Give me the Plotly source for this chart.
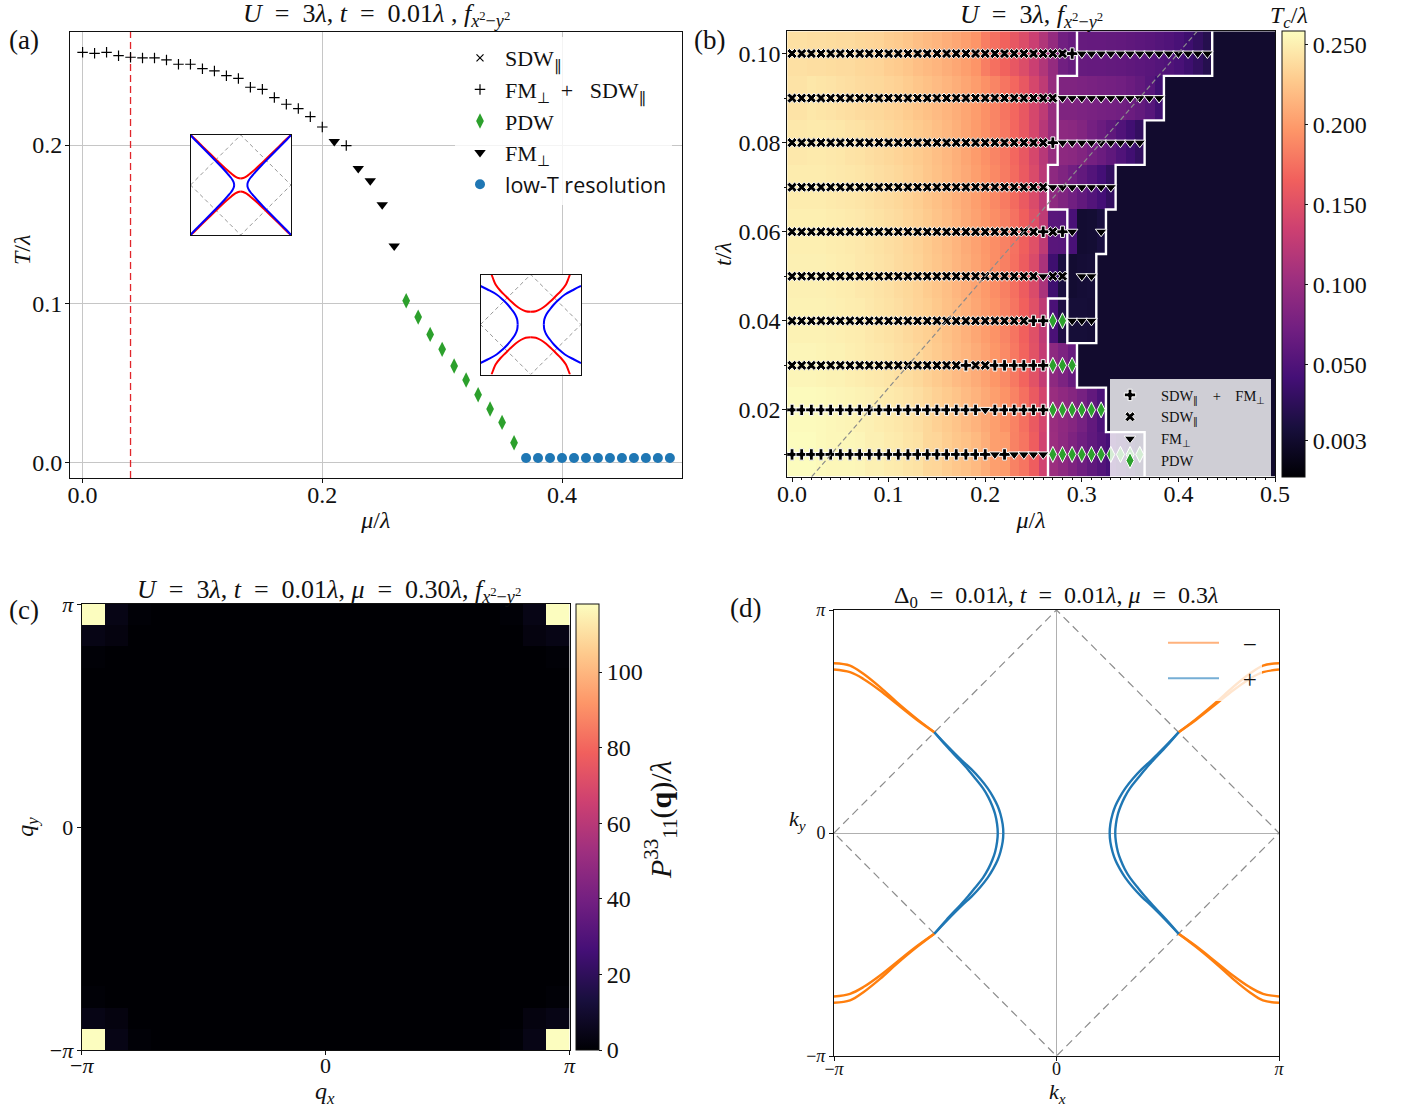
import plotly.graph_objects as go

# ---------- panel (a) data ----------
MU_PLUS = [0.00,0.01,0.02,0.03,0.04,0.05,0.06,0.07,0.08,0.09,0.10,0.11,0.12,0.13,0.14,0.15,0.16,0.17,0.18,0.19,0.20,0.22]
T_PLUS = [.2584,.2578,.2584,.2563,.2553,.2549,.2549,.2536,.2509,.2509,.2481,.2467,.2437,.2420,.2364,.2351,.2299,.2257,.2230,.2179,.2114,.1997]
MU_FM = [0.21,0.23,0.24,0.25,0.26]
T_FM = [.2022,.1852,.1776,.1625,.1365]
MU_PDW = [0.27,0.28,0.29,0.30,0.31,0.32,0.33,0.34,0.35,0.36]
T_PDW = [.1020,.0917,.0808,.0714,.0609,.0521,.0428,.0338,.0254,.0126]
MU_LOW = [0.37,0.38,0.39,0.40,0.41,0.42,0.43,0.44,0.45,0.46,0.47,0.48,0.49]
T_LOW = [.003]*13
MU_CUT = 0.04

# inset Fermi-surface branches (unit box)
INS1_A = [0,.05,.1,.15,.2,.3,.4,.5,.6,.7,.8,.9,1]
INS1_B = [.13,.14,.164,.198,.24,.327,.42,.517,.614,.712,.81,.91,1]
INS2_RX = [0,.1,.2,.3,.4,.5,.6,.7,.75,.78]
INS2_RY = [.253,.265,.31,.38,.47,.57,.67,.80,.92,1]
INS2_BY = [0,.1,.2,.3,.4,.5,.6,.7,.77]
INS2_BX = [.26,.27,.31,.38,.46,.56,.68,.86,1]
DIAMOND_X = [-1,0,1,0,-1]
DIAMOND_Y = [0,1,0,-1,0]

# ---------- panel (b) data ----------
GRID_MU = [i/100 for i in range(51)]
GRID_T = [0.01,0.02,0.03,0.04,0.05,0.06,0.07,0.08,0.09,0.10]
NAVY = 0.003
TC_01 = [.258,.258,.258,.256,.255,.255,.255,.254,.251,.251,.248,.247,.244,.242,.236,.235,.230,.226,.223,.218,.211,.202,.200,.185,.178,.163,.137,.102,.092,.081,.071,.061,.052,.043,.034,.025,.013]
TC_02 = [.257,.257,.257,.256,.255,.254,.253,.252,.251,.249,.247,.245,.243,.240,.236,.232,.228,.224,.219,.214,.208,.202,.195,.186,.175,.160,.140,.100,.093,.086,.076,.062,.047]
TC_03 = [.254,.254,.254,.253,.252,.252,.250,.249,.247,.246,.244,.241,.239,.236,.232,.228,.224,.219,.215,.210,.204,.197,.190,.180,.168,.152,.128,.092,.080,.066]
TC_04 = [.252,.252,.252,.252,.251,.250,.249,.248,.246,.244,.242,.240,.237,.234,.231,.227,.222,.218,.213,.207,.201,.195,.187,.178,.166,.150,.125,.046,.015,.008,.008,.007]
TC_05 = [.251,.251,.251,.251,.250,.249,.248,.246,.245,.243,.241,.238,.236,.233,.229,.225,.221,.216,.211,.205,.199,.192,.184,.175,.162,.145,.112,.038,.012,.005,.007,.008]
TC_06 = [.250,.250,.250,.250,.249,.248,.247,.246,.244,.242,.240,.238,.235,.232,.228,.224,.220,.215,.209,.204,.198,.192,.185,.176,.165,.150,.125,.056,.055,.045,.005,.006,.012]
TC_07 = [.248,.248,.248,.248,.247,.246,.245,.244,.242,.240,.238,.236,.233,.230,.226,.222,.218,.213,.208,.202,.196,.189,.181,.172,.160,.145,.122,.092,.082,.072,.062,.052,.042,.030]
TC_08 = [.246,.246,.247,.247,.246,.245,.243,.242,.240,.238,.236,.234,.231,.228,.225,.221,.217,.212,.206,.200,.194,.187,.180,.170,.158,.142,.120,.098,.092,.090,.084,.075,.068,.060,.050,.040,.030]
TC_09 = [.243,.243,.245,.244,.243,.241,.240,.238,.237,.236,.234,.232,.229,.225,.222,.219,.215,.211,.206,.201,.194,.187,.178,.170,.158,.142,.125,.098,.082,.082,.080,.078,.076,.074,.072,.068,.063,.055,.040]
TC_10 = [.241,.241,.240,.240,.239,.238,.238,.236,.235,.234,.230,.228,.225,.221,.218,.215,.211,.207,.202,.196,.183,.175,.167,.157,.147,.133,.116,.097,.072,.066,.065,.064,.064,.063,.062,.060,.058,.056,.053,.050,.045,.038,.030,.020]
TC_ROWS = [TC_01,TC_02,TC_03,TC_04,TC_05,TC_06,TC_07,TC_08,TC_09,TC_10]

# ordering along mu for every t: (phase, count)
PH_01 = [("p",21),("v",1),("p",1),("v",4),("d",10)]
PH_02 = [("p",20),("v",1),("p",6),("d",6)]
PH_03 = [("x",18),("p",1),("x",2),("p",6),("d",3)]
PH_04 = [("x",25),("p",2),("d",2),("v",3)]
PH_05 = [("x",26),("v",1),("x",2),("_",1),("v",2)]
PH_06 = [("x",26),("p",1),("x",1),("p",1),("v",1),("_",2),("v",1)]
PH_07 = [("x",27),("v",7)]
PH_08 = [("x",27),("p",1),("v",9)]
PH_09 = [("x",28),("v",11)]
PH_10 = [("x",29),("p",1),("v",14)]
PHASE_ROWS = [PH_01,PH_02,PH_03,PH_04,PH_05,PH_06,PH_07,PH_08,PH_09,PH_10]

WALL_1_MU = [.265,.265,.285,.285,.265,.265,.275,.275,.295,.295]
WALL_1_T = [.005,.045,.045,.065,.065,.075,.075,.095,.095,.105]
WALL_2_MU = [.285,.285,.315,.315,.325,.325,.335,.335,.365,.365,.385,.385,.435,.435]
WALL_2_T = [.045,.035,.035,.055,.055,.065,.065,.075,.075,.085,.085,.095,.095,.105]
WALL_3_MU = [.295,.295,.325,.325,.365,.365]
WALL_3_T = [.035,.025,.025,.015,.015,.005]
DIAG_MU = [.0204,.4194]
DIAG_T = [.005,.105]
TC_TICKS = [.003,.05,.10,.15,.20,.25]
TC_LABELS = ["0.003","0.050","0.100","0.150","0.200","0.250"]

# ---------- panel (c) data ----------
CORNER_PEAK = 118
CORNER_NEAR = 4
CORNER_DIAG = 2.5
CORNER_FAR = 0.6
N_Q = 21
Q_TICKS = [-1,0,1]
PI_LABELS = ["−<i>π</i>","0","<i>π</i>"]

# ---------- panel (d) data (unit box; mirrored into the four quadrants) ----------
BLUE_OUT_X = [.239,.242,.252,.264,.284,.309,.342,.382,.425,.49,.549]
BLUE_IN_X = [.264,.267,.276,.288,.306,.33,.363,.398,.434,.495,.549]
BLUE_Y = [0,.04,.085,.12,.16,.2,.242,.285,.325,.39,.452]
OR_X = [.549,.628,.718,.793,.868,.928,1]
OR_UP_Y = [.452,.512,.587,.654,.714,.751,.7615]
OR_LOW_Y = [.452,.508,.579,.639,.691,.721,.733]

SERIF = "Liberation Serif"
W, H = 1406, 1113
ML, MR, MT, MB = 58, 108, 28, 53
PW, PH = W-ML-MR, H-MT-MB
def px(x): return (x-ML)/PW
def py(y): return 1-(y-MT)/PH
def dx(a, b): return [px(a), px(b)]
def dy(top, bot): return [py(bot), py(top)]

fig = go.Figure()
INK = "#111111"
GRID = "#c6c6c6"
NB = "\u00a0"
PAR = "<span style=\"font-family:'DejaVu Sans'\">∥</span>"

# ---- (a) ----
def sc(x, y, name, symbol, color, size, leg, xa="x", ya="y", line=None, show=True):
    fig.add_trace(go.Scatter(x=x, y=y, mode="markers", name=name, xaxis=xa, yaxis=ya,
        marker=dict(symbol=symbol, color=color, size=size, line=line or dict(width=0)),
        legend=leg, showlegend=show, hoverinfo="skip"))

thin = dict(width=1.2, color="black")
fig.add_trace(go.Scatter(x=[MU_CUT, MU_CUT], y=[-0.0096, 0.2712], mode="lines", showlegend=False,
    line=dict(color="#e0262b", width=1.3, dash="7px,4px"), hoverinfo="skip"))
sc([None], [None], f"SDW<sub>{PAR}</sub>", "x-thin", "black", 7, "legend", line=thin)
sc(MU_PLUS, T_PLUS, f"FM<sub>⊥</sub>{NB}{NB}+{NB}{NB}{NB}SDW<sub>{PAR}</sub>", "cross-thin", "black", 7.5, "legend", line=thin)
sc(MU_PDW, T_PDW, "PDW", "diamond-tall", "#2ca02c", 11, "legend")
sc(MU_FM, T_FM, "FM<sub>⊥</sub>", "triangle-down", "black", 10, "legend")
sc(MU_LOW, T_LOW, "<span style=\"font-family:'Open Sans';font-size:21.5px\">low-T resolution</span>", "circle", "#1f77b4", 10, "legend")

# insets
def lines(x, y, color, xa, ya, width=2.0, dash=None, shape="spline"):
    fig.add_trace(go.Scatter(x=x, y=y, mode="lines", xaxis=xa, yaxis=ya, showlegend=False,
        line=dict(color=color, width=width, dash=dash, shape=shape), hoverinfo="skip"))

for xa, ya in (("x2","y2"),("x3","y3")):
    lines(DIAMOND_X, DIAMOND_Y, "#8c8c8c", xa, ya, 0.9, "4px,3px", "linear")
for sx in (1,-1):
    for sy in (1,-1):
        lines([sx*v for v in INS1_A], [sy*v for v in INS1_B], "#ff0000", "x2", "y2")
for sx in (1,-1):
    for sy in (1,-1):
        lines([sx*v for v in INS1_B], [sy*v for v in INS1_A], "#0000ff", "x2", "y2")
for sx in (1,-1):
    for sy in (1,-1):
        lines([sx*v for v in INS2_RX], [sy*v for v in INS2_RY], "#ff0000", "x3", "y3")
        lines([sx*v for v in INS2_BX], [sy*v for v in INS2_BY], "#0000ff", "x3", "y3")

# ---- (b) ----
z_b = [row + [NAVY]*(len(GRID_MU)-len(row)) for row in TC_ROWS]
fig.add_trace(go.Heatmap(x=GRID_MU, y=GRID_T, z=z_b, colorscale="Magma", zmin=-0.02, zmax=0.2586,
    xaxis="x4", yaxis="y4", showscale=True, hoverinfo="skip",
    colorbar=dict(x=px(1281.5), xanchor="left", xpad=0, ypad=0, y=py(31), yanchor="top",
        len=445.5/PH, lenmode="fraction", thickness=23, thicknessmode="pixels",
        outlinewidth=1, outlinecolor=INK, tickvals=TC_TICKS, ticktext=TC_LABELS,
        ticks="outside", ticklen=3, tickcolor=INK, tickfont=dict(family=SERIF, size=24, color=INK))))

for xs, ys in ((WALL_1_MU, WALL_1_T),(WALL_2_MU, WALL_2_T),(WALL_3_MU, WALL_3_T)):
    lines(xs, ys, "white", "x4", "y4", 2.4, None, "linear")

groups = {"p":([],[]), "x":([],[]), "v":([],[]), "d":([],[])}
for t, row in zip(GRID_T, PHASE_ROWS):
    i = 0
    for ph, n in row:
        for _ in range(n):
            if ph != "_":
                groups[ph][0].append(GRID_MU[i]); groups[ph][1].append(t)
            i += 1
edge = dict(width=1, color="white")
LEAD = NB*3
sc(*groups["p"], f"{LEAD}SDW<sub>{PAR}</sub>{NB*4}+{NB*4}FM<sub>⊥</sub>", "cross", "black", 9.5, "legend2", "x4", "y4", edge)
sc(*groups["x"], f"{LEAD}SDW<sub>{PAR}</sub>", "x", "black", 9, "legend2", "x4", "y4", edge)
sc(*groups["v"], f"{LEAD}FM<sub>⊥</sub>", "triangle-down", "black", 10, "legend2", "x4", "y4", edge)
sc(*groups["d"], f"{LEAD}PDW", "diamond-tall", "#2ca02c", 11.5, "legend2", "x4", "y4", edge)
fig.add_trace(go.Scatter(x=DIAG_MU, y=DIAG_T, mode="lines", xaxis="x4", yaxis="y4", showlegend=False,
    line=dict(color="#8c8c8c", width=1.2, dash="5px,3px"), hoverinfo="skip"))

# ---- (c) ----
z_c = [[0.0]*N_Q for _ in range(N_Q)]
for iy in (0, N_Q-1):
    for ix in (0, N_Q-1):
        ny = 1 if iy == 0 else N_Q-2
        nx = 1 if ix == 0 else N_Q-2
        z_c[iy][ix] = CORNER_PEAK
        z_c[iy][nx] = CORNER_NEAR
        z_c[ny][ix] = CORNER_NEAR
        z_c[ny][nx] = CORNER_DIAG
        z_c[iy][2 if ix == 0 else N_Q-3] = CORNER_FAR
        z_c[2 if iy == 0 else N_Q-3][ix] = CORNER_FAR
Q_EDGES = [-1 + 2*i/N_Q for i in range(N_Q+1)]
fig.add_trace(go.Heatmap(x=Q_EDGES, y=Q_EDGES, z=z_c, colorscale="Magma", zmin=0, zmax=118,
    xaxis="x5", yaxis="y5", hoverinfo="skip",
    colorbar=dict(x=px(576), xanchor="left", xpad=0, ypad=0, y=py(604), yanchor="top",
        len=446/PH, lenmode="fraction", thickness=23, thicknessmode="pixels",
        outlinewidth=1, outlinecolor=INK, tickvals=[0,20,40,60,80,100],
        ticks="outside", ticklen=3, tickcolor=INK, tickfont=dict(family=SERIF, size=24, color=INK))))

# ---- (d) ----
lines(DIAMOND_X, DIAMOND_Y, "#8c8c8c", "x6", "y6", 1.2, "8px,5px", "linear")
for sx in (1,-1):
    for sy in (1,-1):
        lines([sx*v for v in OR_X], [sy*v for v in OR_UP_Y], "#ff7f0e", "x6", "y6", 2.4)
        lines([sx*v for v in OR_X], [sy*v for v in OR_LOW_Y], "#ff7f0e", "x6", "y6", 2.4)
for sx in (1,-1):
    for X in (BLUE_OUT_X, BLUE_IN_X):
        ys = [-v for v in BLUE_Y[::-1]] + BLUE_Y[1:]
        xs = [sx*v for v in X[::-1]] + [sx*v for v in X[1:]]
        lines(xs, ys, "#1f77b4", "x6", "y6", 2.4)
fig.add_trace(go.Scatter(x=[None], y=[None], mode="lines", name=f"{NB}{NB}{NB}−", xaxis="x6", yaxis="y6", legend="legend3",
    line=dict(color="#ffb27d", width=2)))
fig.add_trace(go.Scatter(x=[None], y=[None], mode="lines", name=f"{NB}{NB}{NB}+", xaxis="x6", yaxis="y6", legend="legend3",
    line=dict(color="#76aed5", width=2)))

tfont = dict(family=SERIF, size=24, color=INK)
def ax(domain, rng, anchor, **kw):
    d = dict(domain=domain, range=rng, anchor=anchor, showline=True, mirror=True, linecolor=INK, linewidth=1,
             ticks="outside", ticklen=4, tickcolor=INK, tickfont=tfont, showgrid=False, zeroline=False,
             layer="above traces", automargin=False)
    d.update(kw)
    return d
def blank(domain, anchor):
    return dict(domain=domain, range=[-1,1], anchor=anchor, showline=True, mirror=True, linecolor=INK,
                linewidth=1.2, ticks="", showticklabels=False, showgrid=False, zeroline=False, automargin=False)
def title(text, standoff, size=24):
    return dict(text=text, standoff=standoff, font=dict(family=SERIF, size=size, color=INK))

LAM = "<i>λ</i>"
anns = []
def note(x, y, text, size=22, **kw):
    anns.append(dict(x=px(x), y=py(y), xref="paper", yref="paper", text=text, showarrow=False,
                     xanchor="center", yanchor="middle",
                     font=dict(family=SERIF, size=size, color=INK), **kw))
F = "<i>f</i><sub><i>x</i><sup>2</sup>−<i>y</i><sup>2</sup></sub>"
EQ = f"{NB}{NB}={NB}{NB}"
note(376, 15, f"<i>U</i>{EQ}3{LAM},{NB}<i>t</i>{EQ}0.01{LAM}{NB},{NB}{F}", 26)
note(1031, 16, f"<i>U</i>{EQ}3{LAM},{NB}{F}", 26)
note(329, 591, f"<i>U</i>{EQ}3{LAM},{NB}<i>t</i>{EQ}0.01{LAM},{NB}<i>μ</i>{EQ}0.30{LAM},{NB}{F}", 26)
note(1056, 597, f"Δ<sub>0</sub>{EQ}0.01{LAM},{NB}<i>t</i>{EQ}0.01{LAM},{NB}<i>μ</i>{EQ}0.3{LAM}", 24)
note(24, 40, "(a)", 27)
note(709, 40, "(b)", 27)
note(24, 610, "(c)", 27)
note(745, 608, "(d)", 27)
note(1289, 17, f"<i>T<sub>c</sub></i>/{LAM}", 24)
note(660, 820, f"<i>P</i><sup>33</sup><sub>11</sub>(<b>q</b>)/{LAM}", 30, textangle=-90)
note(797, 820, "<i>k<sub>y</sub></i>", 22)
note(22, 250, f"<i>T</i>/{LAM}", 24, textangle=-90)
note(325, 1093, "<i>q<sub>x</sub></i>", 24)
note(1057, 1093, "<i>k<sub>x</sub></i>", 22)

QFONT = dict(family=SERIF, size=22, color=INK)
KFONT = dict(family=SERIF, size=18, color=INK)
fig.update_layout(
    width=W, height=H, margin=dict(l=ML, r=MR, t=MT, b=MB), autosize=False,
    paper_bgcolor="white", plot_bgcolor="white", font=dict(family=SERIF, size=22, color=INK),
    annotations=anns,
    xaxis=ax(dx(70,681.5), [-0.0105,0.4997], "y", tickvals=[0,.2,.4], ticktext=["0.0","0.2","0.4"], ticklabelstandoff=-9,
             showgrid=True, gridcolor=GRID, gridwidth=1.4, title=title(f"<i>μ</i>/{LAM}", 4)),
    yaxis=ax(dy(32,478), [-0.0096,0.2712], "x", tickvals=[0,.1,.2], ticktext=["0.0","0.1","0.2"], ticklabelstandoff=-2,
             showgrid=True, gridcolor=GRID, gridwidth=1.4),
    xaxis2=blank(dx(190.5,291), "y2"), yaxis2=blank(dy(135,235), "x2"),
    xaxis3=blank(dx(480.5,581), "y3"), yaxis3=blank(dy(274.5,374.5), "x3"),
    xaxis4=ax(dx(787.2,1275), [-0.005,0.5], "y4", tickvals=[0,.1,.2,.3,.4,.5], ticktext=["0.0","0.1","0.2","0.3","0.4","0.5"], ticklabelstandoff=-9,
              minor=dict(dtick=0.01, tick0=0, ticks="outside", ticklen=2, tickcolor=INK),
              title=title(f"<i>μ</i>/{LAM}", 5)),
    yaxis4=ax(dy(31.3,476.7), [0.005,0.105], "x4", tickvals=[.02,.04,.06,.08,.10], ticktext=["0.02","0.04","0.06","0.08","0.10"], ticklabelstandoff=-3,
              minor=dict(dtick=0.01, tick0=0, ticks="outside", ticklen=2, tickcolor=INK),
              title=title(f"<i>t</i>/{LAM}", 0)),
    xaxis5=ax(dx(81.7,569.5), [-1,1], "y5", tickvals=Q_TICKS, ticktext=PI_LABELS, tickfont=QFONT, ticklabelstandoff=-8),
    yaxis5=ax(dy(604,1050), [-1,1], "x5", tickvals=Q_TICKS, ticktext=PI_LABELS, tickfont=QFONT, ticklabelstandoff=-1, title=title("<i>q<sub>y</sub></i>", 9)),
    xaxis6=ax(dx(834,1279), [-1,1], "y6", tickvals=Q_TICKS, ticktext=PI_LABELS, tickfont=KFONT, ticklabelstandoff=-8,
              showgrid=True, gridcolor="#b0b0b0", gridwidth=1),
    yaxis6=ax(dy(610,1056), [-1,1], "x6", tickvals=Q_TICKS, ticktext=PI_LABELS, tickfont=KFONT, ticklabelstandoff=0,
              showgrid=True, gridcolor="#b0b0b0", gridwidth=1),
    legend=dict(x=px(455), y=py(37), xanchor="left", yanchor="top", bgcolor="rgba(255,255,255,0.8)",
                font=dict(family=SERIF, size=22, color=INK), itemwidth=40, entrywidth=175, entrywidthmode="pixels",
                tracegroupgap=0, itemclick=False),
    legend2=dict(x=px(1110), y=py(379), xanchor="left", yanchor="top", bgcolor="rgba(255,255,255,0.8)",
                 font=dict(family=SERIF, size=14.5, color=INK), itemwidth=30, entrywidth=127, entrywidthmode="pixels",
                 tracegroupgap=0, itemclick=False),
    legend3=dict(x=px(1163), y=py(620), xanchor="left", yanchor="top", bgcolor="rgba(255,255,255,0.8)",
                 font=dict(family=SERIF, size=25, color=INK), itemwidth=51, entrywidth=50, entrywidthmode="pixels",
                 tracegroupgap=0, itemclick=False),
)
fig.write_html("out.html", post_script="document.body.style.margin='0';", config={"displayModeBar": False})
